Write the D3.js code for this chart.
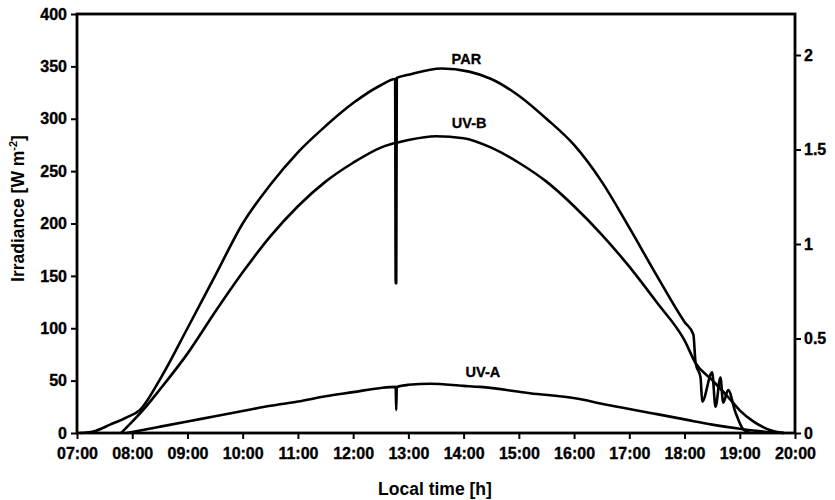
<!DOCTYPE html>
<html>
<head>
<meta charset="utf-8">
<script src="https://cdn.jsdelivr.net/npm/d3@7"></script>
<style>
  body { margin: 0; background: #fff; }
  svg text { font-family: "Liberation Sans", Arial, sans-serif; font-weight: bold; fill: #000; }
  .tick text { font-size: 16px; }
  .axisTitle { font-size: 17.5px; }
  .curveLabel { font-size: 14.5px; }
</style>
</head>
<body>
<svg id="chart" width="835" height="500"></svg>
<script>
// time in decimal hours
const parTime = [7.05, 7.33, 7.6, 7.9, 8.14, 8.5, 9.0, 9.5, 10.0, 10.5, 11.0, 11.5, 12.0, 12.5, 12.76, 12.77, 12.78, 12.79, 13.0, 13.6, 14.1, 14.5, 15.0, 15.5, 16.0, 16.5, 17.0, 17.5, 18.0, 18.16, 18.2, 18.29, 18.32, 18.5, 18.56, 18.65, 18.7, 18.79, 18.92, 19.07, 19.2];
const parValue = [0, 2, 8, 15, 22, 51, 100, 150, 200, 237, 268, 293, 315, 332, 338, 143, 143, 339, 342, 348, 345, 338, 322, 300, 275, 240, 196, 150, 106, 94, 67, 53, 30, 58, 25, 53, 29, 41, 20, 3, 0];

const uvbTime = [7.8, 8.0, 8.25, 8.5, 9.0, 9.5, 10.0, 10.5, 11.0, 11.5, 12.0, 12.5, 13.0, 13.5, 14.0, 14.5, 15.0, 15.5, 16.0, 16.5, 17.0, 17.5, 18.0, 18.2, 18.5, 18.79, 19.0, 19.25, 19.43, 19.6, 19.8];
const uvbValue = [0, 0.06, 0.14, 0.23, 0.42, 0.64, 0.85, 1.04, 1.2, 1.33, 1.43, 1.51, 1.55, 1.57, 1.56, 1.51, 1.43, 1.33, 1.2, 1.05, 0.88, 0.69, 0.49, 0.37, 0.28, 0.19, 0.12, 0.06, 0.03, 0.01, 0];

const uvaTime = [7.9, 8.0, 8.5, 9.0, 9.5, 10.0, 10.5, 11.0, 11.5, 12.0, 12.5, 12.77, 12.78, 12.79, 13.0, 13.4, 14.0, 14.3, 15.2, 16.1, 16.5, 17.0, 17.5, 18.0, 18.5, 19.0, 19.5, 19.8];
const uvaValue = [0, 1, 6, 11, 16, 21, 26, 30, 35, 39, 43, 44, 22, 44, 46, 47, 45, 44, 38, 32.5, 28, 23, 18, 13, 8, 4, 1, 0];

const hourTicks = [7, 8, 9, 10, 11, 12, 13, 14, 15, 16, 17, 18, 19, 20];
const leftTicks = [0, 50, 100, 150, 200, 250, 300, 350, 400];
const rightTicks = [0, 0.5, 1, 1.5, 2];

const seriesLabels = [
  {name: 'PAR', t: 14.05, v: 352},
  {name: 'UV-B', t: 14.1, v: 291},
  {name: 'UV-A', t: 14.35, v: 53}
];

const svg = d3.select('#chart');
const margin = {top: 14, right: 40, bottom: 67, left: 77};
const width = +svg.attr('width');
const height = +svg.attr('height');
const innerWidth = width - margin.left - margin.right;
const innerHeight = height - margin.top - margin.bottom;

const xScale = d3.scaleLinear().domain([7, 20]).range([0, innerWidth]);
const yScale = d3.scaleLinear().domain([0, 400]).range([innerHeight, 0]);
const yRight = d3.scaleLinear().domain([0, 2.217]).range([innerHeight, 0]);

const g = svg.append('g')
  .attr('transform', `translate(${margin.left}, ${margin.top})`);

const fmtHour = h => (h < 10 ? '0' + h : h) + ':00';

// axes
const xAxisG = g.append('g')
  .attr('transform', `translate(0, ${innerHeight})`)
  .call(d3.axisBottom(xScale).tickValues(hourTicks).tickFormat(fmtHour).tickSize(6).tickPadding(9));

const yAxisG = g.append('g')
  .call(d3.axisLeft(yScale).tickValues(leftTicks).tickSize(6).tickPadding(4));

const yRightG = g.append('g')
  .attr('transform', `translate(${innerWidth}, 0)`)
  .call(d3.axisRight(yRight).tickValues(rightTicks).tickFormat(d3.format('')).tickSize(6).tickPadding(3));

[xAxisG, yAxisG, yRightG].forEach(a => {
  a.selectAll('.domain').remove();
  a.selectAll('.tick line').attr('stroke', '#000').attr('stroke-width', 2);
  a.selectAll('.tick text').attr('stroke', '#000').attr('stroke-width', 0.35);
});

// frame
g.append('rect')
  .attr('width', innerWidth)
  .attr('height', innerHeight)
  .attr('fill', 'none')
  .attr('stroke', '#000')
  .attr('stroke-width', 2.8);

// curves
const zip = (ts, vs) => ts.map((t, i) => ({t, v: vs[i]}));
const lineLeft = d3.line().x(d => xScale(d.t)).y(d => yScale(d.v)).curve(d3.curveMonotoneX);
const lineRight = d3.line().x(d => xScale(d.t)).y(d => yRight(d.v)).curve(d3.curveMonotoneX);

g.append('path')
  .attr('d', lineLeft(zip(uvaTime, uvaValue)))
  .attr('fill', 'none').attr('stroke', '#000').attr('stroke-width', 2.6);

g.append('path')
  .attr('d', lineRight(zip(uvbTime, uvbValue)))
  .attr('fill', 'none').attr('stroke', '#000').attr('stroke-width', 2.6);

g.append('path')
  .attr('d', lineLeft(zip(parTime, parValue)))
  .attr('fill', 'none').attr('stroke', '#000').attr('stroke-width', 2.6)
  .attr('stroke-linejoin', 'round');

g.selectAll('.curveLabel')
  .data(seriesLabels)
  .enter().append('text')
    .attr('class', 'curveLabel')
    .attr('x', d => xScale(d.t))
    .attr('y', d => yScale(d.v))
    .attr('text-anchor', 'middle')
    .attr('stroke', '#000').attr('stroke-width', 0.3)
    .text(d => d.name);

// axis titles
g.append('text')
  .attr('class', 'axisTitle')
  .attr('x', innerWidth / 2 - 1)
  .attr('y', innerHeight + 62)
  .attr('text-anchor', 'middle')
  .text('Local time [h]');

const yTitle = g.append('text')
  .attr('class', 'axisTitle')
  .attr('transform', `translate(-53, ${innerHeight / 2 - 15}) rotate(-90)`)
  .attr('text-anchor', 'middle');
yTitle.append('tspan').text('Irradiance [W m');
yTitle.append('tspan').attr('dy', -7).attr('font-size', 11).text('-2');
yTitle.append('tspan').attr('dy', 7).text(']');
</script>
</body>
</html>
